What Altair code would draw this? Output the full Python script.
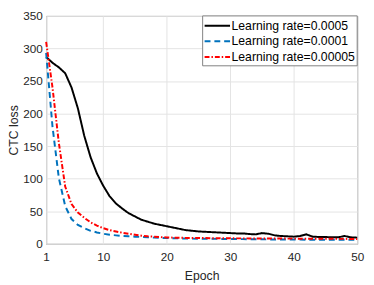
import altair as alt
import pandas as pd

epochs = list(range(1, 51))

loss_0005 = [287, 278, 271, 262, 240, 208, 166, 133, 108, 89,
             73, 62, 54, 47, 42, 37, 34, 31, 29, 27,
             25, 23, 21, 20, 19, 18.5, 18, 17.5, 17, 16.5,
             16, 16, 15, 14.5, 16.5, 15.5, 13, 12, 11.5, 11,
             12, 14.5, 11, 10.5, 10.5, 10, 10, 12, 10, 9.5]

loss_0001 = [293, 180, 101, 58, 38, 29, 24, 20, 17.5, 15.5,
             14, 13, 12, 11.5, 11, 10.5, 10, 9.5, 9.2, 8.8,
             8.6, 8.4, 8.2, 8, 7.9, 7.8, 7.7, 7.6, 7.5, 7.4,
             7.3, 7.2, 7.1, 7, 6.9, 6.8, 6.8, 6.7, 6.6, 6.5,
             6.5, 6.4, 6.4, 6.3, 6.3, 6.2, 6.2, 6.1, 6.1, 6]

loss_00005 = [310, 240, 155, 88, 61, 48, 40, 33, 28, 24,
              21, 19, 17, 15.5, 14, 12.5, 11.5, 11, 10.3, 9.8,
              9.5, 9.3, 9.1, 9, 8.9, 8.8, 8.7, 8.6, 8.5, 8.5,
              8.4, 8.4, 8.3, 8.3, 8.2, 8.2, 8.1, 8.1, 8, 8,
              7.9, 7.9, 7.8, 7.8, 7.7, 7.7, 7.6, 7.6, 7.5, 7.5]

series_names = ["Learning rate=0.0005", "Learning rate=0.0001", "Learning rate=0.00005"]
series_values = [loss_0005, loss_0001, loss_00005]
series_colors = ["#000000", "#0072BD", "#FF0000"]
series_dashes = [[1, 0], [6, 4], [5, 2, 1.5, 2]]

x_ticks = [1, 10, 20, 30, 40, 50]
y_ticks = [0, 50, 100, 150, 200, 250, 300, 350]

rows = []
for name, vals in zip(series_names, series_values):
    for e, v in zip(epochs, vals):
        rows.append({"epoch": e, "loss": v, "series": name})
df = pd.DataFrame(rows)

legend_df = pd.DataFrame({"series": series_names, "row": list(range(len(series_names)))})

FONT = "Liberation Sans"

color_scale = alt.Scale(domain=series_names, range=series_colors)
dash_scale = alt.Scale(domain=series_names, range=series_dashes)

lines = alt.Chart(df).mark_line(strokeWidth=2, strokeCap="butt").encode(
    x=alt.X("epoch:Q",
            scale=alt.Scale(domain=[1, 50], nice=False, zero=False),
            axis=alt.Axis(values=x_ticks, title="Epoch", labelPadding=8,
                          titlePadding=7, labelFlush=False)),
    y=alt.Y("loss:Q",
            scale=alt.Scale(domain=[0, 350], nice=False),
            axis=alt.Axis(values=y_ticks, title="CTC loss", labelPadding=4,
                          titlePadding=2)),
    color=alt.Color("series:N", scale=color_scale, legend=None),
    strokeDash=alt.StrokeDash("series:N", scale=dash_scale, legend=None),
    order=alt.Order("epoch:Q"),
)

# legend (drawn inside the plot's upper-right corner, like MATLAB's)
row_y = alt.Y("row:Q", scale=alt.Scale(domain=[0, 2], range=[10, 42]), axis=None)

legend_box = alt.Chart(pd.DataFrame({"k": [0]})).mark_rect(
    fill="white", stroke="#808080", strokeWidth=1
).encode(
    x=alt.value(160), x2=alt.value(318),
    y=alt.value(0), y2=alt.value(51),
)

legend_lines = alt.Chart(legend_df).mark_rule(strokeWidth=2, strokeCap="butt").encode(
    x=alt.value(162), x2=alt.value(188),
    y=row_y,
    color=alt.Color("series:N", scale=color_scale, legend=None),
    strokeDash=alt.StrokeDash("series:N", scale=dash_scale, legend=None),
)

legend_text = alt.Chart(legend_df).mark_text(
    align="left", baseline="middle", font=FONT, fontSize=12.5, color="#000000"
).encode(
    x=alt.value(189.5),
    y=row_y,
    text="series:N",
)

chart = alt.layer(lines, legend_box, legend_lines, legend_text).resolve_scale(
    y="independent"
).properties(
    width=318, height=233,
    autosize=alt.AutoSizeParams(type="none"),
    padding={"left": 39, "top": 5, "right": 9, "bottom": 39},
).configure_view(
    stroke="#707070", strokeWidth=1
).configure_axis(
    grid=True, gridColor="#e3e3e3", gridWidth=1,
    domain=False, ticks=False,
    labelFont=FONT, labelFontSize=12, labelColor="#262626",
    titleFont=FONT, titleFontSize=12.5, titleColor="#262626", titleFontWeight="normal",
)

chart.save("out.html", embed_options={"renderer": "svg", "actions": False})
